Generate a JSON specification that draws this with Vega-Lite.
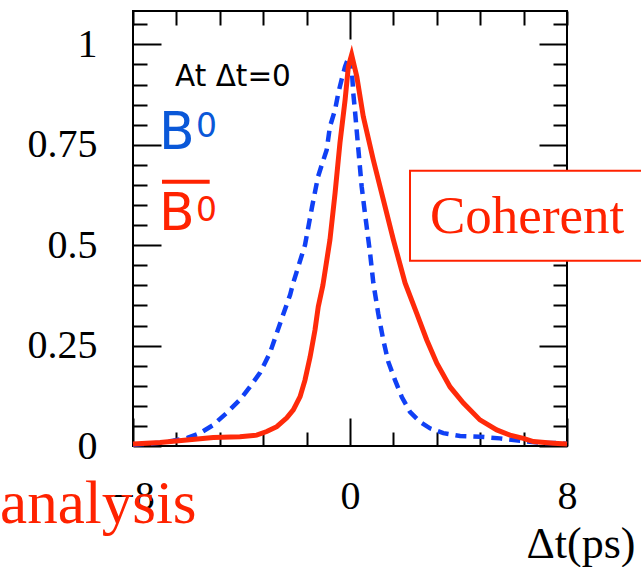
{
  "$schema": "https://vega.github.io/schema/vega-lite/v6.json",
  "width": 434,
  "height": 435,
  "autosize": {"type": "none"},
  "padding": {"left": 133, "top": 11, "right": 74, "bottom": 121},
  "background": "white",
  "config": {
    "view": {"stroke": "black", "strokeWidth": 2},
    "axis": {"domain": false, "grid": false, "tickColor": "black", "tickWidth": 2, "labelFont": "Liberation Serif", "labelFontSize": 40, "labelColor": "black", "labelOverlap": false}
  },
  "datasets": {
    "blue": [
      {"t": -8, "v": 0.003}, {"t": -7.63, "v": 0.005}, {"t": -7.0, "v": 0.008}, {"t": -6.53, "v": 0.013},
      {"t": -6.0, "v": 0.02}, {"t": -5.53, "v": 0.032}, {"t": -5.05, "v": 0.052}, {"t": -4.55, "v": 0.082},
      {"t": -4.06, "v": 0.115}, {"t": -3.69, "v": 0.147}, {"t": -3.32, "v": 0.182}, {"t": -2.95, "v": 0.232},
      {"t": -2.7, "v": 0.281}, {"t": -2.47, "v": 0.326}, {"t": -2.21, "v": 0.376}, {"t": -2.09, "v": 0.407},
      {"t": -1.66, "v": 0.5}, {"t": -1.4, "v": 0.595}, {"t": -1.18, "v": 0.67}, {"t": -1.04, "v": 0.7},
      {"t": -0.86, "v": 0.737}, {"t": -0.74, "v": 0.795}, {"t": -0.55, "v": 0.837}, {"t": -0.43, "v": 0.879},
      {"t": -0.31, "v": 0.912}, {"t": -0.18, "v": 0.945}, {"t": -0.06, "v": 0.966}, {"t": 0, "v": 0.97},
      {"t": 0.06, "v": 0.945}, {"t": 0.12, "v": 0.879}, {"t": 0.18, "v": 0.837}, {"t": 0.31, "v": 0.737},
      {"t": 0.43, "v": 0.646}, {"t": 0.55, "v": 0.58}, {"t": 0.74, "v": 0.48}, {"t": 0.86, "v": 0.406},
      {"t": 1.04, "v": 0.33}, {"t": 1.23, "v": 0.263}, {"t": 1.41, "v": 0.21}, {"t": 1.66, "v": 0.164},
      {"t": 1.91, "v": 0.122}, {"t": 2.21, "v": 0.085}, {"t": 2.58, "v": 0.06}, {"t": 2.95, "v": 0.044},
      {"t": 3.44, "v": 0.032}, {"t": 4.06, "v": 0.025}, {"t": 4.79, "v": 0.023}, {"t": 5.53, "v": 0.019},
      {"t": 6.27, "v": 0.013}, {"t": 7.0, "v": 0.008}, {"t": 7.74, "v": 0.007}, {"t": 8, "v": 0.005}
    ],
    "red": [
      {"t": -8, "v": 0.005}, {"t": -7.0, "v": 0.009}, {"t": -6.02, "v": 0.015}, {"t": -5.04, "v": 0.021},
      {"t": -4.06, "v": 0.023}, {"t": -3.44, "v": 0.027}, {"t": -3.07, "v": 0.036}, {"t": -2.7, "v": 0.048},
      {"t": -2.33, "v": 0.07}, {"t": -2.09, "v": 0.09}, {"t": -1.84, "v": 0.123}, {"t": -1.66, "v": 0.164},
      {"t": -1.47, "v": 0.222}, {"t": -1.29, "v": 0.289}, {"t": -1.17, "v": 0.347}, {"t": -1.0, "v": 0.4},
      {"t": -0.74, "v": 0.513}, {"t": -0.55, "v": 0.63}, {"t": -0.37, "v": 0.755}, {"t": -0.18, "v": 0.862},
      {"t": -0.06, "v": 0.945}, {"t": 0.06, "v": 0.974}, {"t": 0.25, "v": 0.92}, {"t": 0.49, "v": 0.82},
      {"t": 0.86, "v": 0.712}, {"t": 1.23, "v": 0.613}, {"t": 1.6, "v": 0.513}, {"t": 2.03, "v": 0.406},
      {"t": 2.46, "v": 0.33}, {"t": 2.83, "v": 0.264}, {"t": 3.2, "v": 0.206}, {"t": 3.69, "v": 0.147},
      {"t": 4.18, "v": 0.107}, {"t": 4.79, "v": 0.065}, {"t": 5.41, "v": 0.04}, {"t": 5.9, "v": 0.027},
      {"t": 6.39, "v": 0.019}, {"t": 6.76, "v": 0.011}, {"t": 7.5, "v": 0.007}, {"t": 8.0, "v": 0.005}
    ]
  },
  "layer": [
    {
      "layer": [
        {
          "data": {"name": "blue"},
          "mark": {"type": "line", "color": "#1040f5", "strokeWidth": 4.5, "strokeDash": [11, 7]},
          "encoding": {
            "x": {"field": "t", "type": "quantitative", "scale": {"domain": [-8, 8], "nice": false, "zero": false},
              "axis": {"orient": "bottom", "values": [-8, -6.4, -4.8, -3.2, -1.6, 0, 1.6, 3.2, 4.8, 6.4, 8], "tickCount": 100,
                "tickSize": {"condition": {"test": "datum.value == -8 || datum.value == 0 || datum.value == 8", "value": -28}, "value": -14},
                "labelExpr": "(datum.value == -8 || datum.value == 0 || datum.value == 8) ? datum.label : ''",
                "format": "~g", "labelPadding": 90, "labelBaseline": "alphabetic", "labelFlush": false, "labelOverlap": false,
                "title": "Δt(ps)", "titleFont": "Liberation Serif", "titleFontSize": 44, "titleFontWeight": "normal", "titleColor": "black",
                "titleAnchor": null, "titleX": 502, "titleY": 111, "titleAlign": "right", "titleBaseline": "alphabetic"}},
            "y": {"field": "v", "type": "quantitative", "scale": {"domain": [0, 1.083], "nice": false},
              "axis": {"orient": "left", "values": [0, 0.05, 0.1, 0.15, 0.2, 0.25, 0.3, 0.35, 0.4, 0.45, 0.5, 0.55, 0.6, 0.65, 0.7, 0.75, 0.8, 0.85, 0.9, 0.95, 1, 1.05], "tickCount": 100,
                "tickSize": {"condition": {"test": "indexof(['0', '0.25', '0.5', '0.75', '1'], format(datum.value, '~g')) >= 0", "value": -28}, "value": -14},
                "labelExpr": "indexof(['0', '0.25', '0.5', '0.75', '1'], format(datum.value, '~g')) >= 0 ? datum.label : ''",
                "format": "~g", "labelPadding": 64, "labelFlush": false, "labelOverlap": false, "title": null}}
          }
        },
        {
          "data": {"values": [{}]},
          "mark": {"type": "rect", "fill": "white", "stroke": "#ff2200", "strokeWidth": 2},
          "encoding": {"x": {"datum": 2.212, "type": "quantitative"}, "x2": {"datum": 10.9}, "y": {"datum": 0.685, "type": "quantitative"}, "y2": {"datum": 0.461}}
        },
        {
          "data": {"values": [{}]},
          "mark": {"type": "text", "text": "Coherent", "font": "Liberation Serif", "fontSize": 53, "color": "#ff2200", "align": "left", "baseline": "alphabetic"},
          "encoding": {"x": {"datum": 2.95, "type": "quantitative"}, "y": {"datum": 0.531, "type": "quantitative"}}
        },
        {
          "data": {"values": [{}]},
          "mark": {"type": "text", "text": "analysis", "font": "Liberation Serif", "fontSize": 61, "color": "#ff2200", "align": "left", "baseline": "alphabetic"},
          "encoding": {"x": {"datum": -12.9, "type": "quantitative"}, "y": {"datum": -0.192, "type": "quantitative"}}
        },
        {
          "data": {"values": [{}]},
          "mark": {"type": "text", "text": "At Δt=0", "font": "DejaVu Sans", "fontSize": 29.5, "color": "black", "align": "left", "baseline": "alphabetic"},
          "encoding": {"x": {"datum": -6.45, "type": "quantitative"}, "y": {"datum": 0.897, "type": "quantitative"}}
        },
        {
          "data": {"values": [{}]},
          "mark": {"type": "text", "text": "B", "font": "DejaVu Sans", "fontSize": 52, "color": "#0a58d8", "align": "left", "baseline": "alphabetic"},
          "encoding": {"x": {"datum": -7.045, "type": "quantitative"}, "y": {"datum": 0.739, "type": "quantitative"}}
        },
        {
          "data": {"values": [{}]},
          "mark": {"type": "text", "text": "0", "font": "DejaVu Sans", "fontSize": 33, "color": "#0a58d8", "align": "left", "baseline": "alphabetic"},
          "encoding": {"x": {"datum": -5.674, "type": "quantitative"}, "y": {"datum": 0.769, "type": "quantitative"}}
        },
        {
          "data": {"values": [{}]},
          "mark": {"type": "text", "text": "B", "font": "DejaVu Sans", "fontSize": 52, "color": "#ff2200", "align": "left", "baseline": "alphabetic"},
          "encoding": {"x": {"datum": -7.045, "type": "quantitative"}, "y": {"datum": 0.538, "type": "quantitative"}}
        },
        {
          "data": {"values": [{}]},
          "mark": {"type": "text", "text": "0", "font": "DejaVu Sans", "fontSize": 33, "color": "#ff2200", "align": "left", "baseline": "alphabetic"},
          "encoding": {"x": {"datum": -5.674, "type": "quantitative"}, "y": {"datum": 0.559, "type": "quantitative"}}
        },
        {
          "data": {"values": [{}]},
          "mark": {"type": "rule", "color": "#ff2200", "strokeWidth": 4},
          "encoding": {"x": {"datum": -6.931, "type": "quantitative"}, "x2": {"datum": -5.173}, "y": {"datum": 0.658, "type": "quantitative"}}
        }
      ]
    },
    {
      "data": {"name": "red"},
      "mark": {"type": "line", "color": "#ff2a0a", "strokeWidth": 5},
      "encoding": {
        "x": {"field": "t", "type": "quantitative", "scale": {"domain": [-8, 8], "nice": false, "zero": false},
          "axis": {"orient": "top", "values": [-8, -6.4, -4.8, -3.2, -1.6, 0, 1.6, 3.2, 4.8, 6.4, 8], "tickCount": 100,
            "tickSize": {"condition": {"test": "datum.value == 0", "value": -28}, "value": -14},
            "labels": false, "title": null}},
        "y": {"field": "v", "type": "quantitative", "scale": {"domain": [0, 1.083], "nice": false},
          "axis": {"orient": "right", "values": [0, 0.05, 0.1, 0.15, 0.2, 0.25, 0.3, 0.35, 0.4, 0.45, 0.5, 0.55, 0.6, 0.65, 0.7, 0.75, 0.8, 0.85, 0.9, 0.95, 1, 1.05], "tickCount": 100,
            "tickSize": {"condition": {"test": "indexof(['0', '0.25', '0.5', '0.75', '1'], format(datum.value, '~g')) >= 0", "value": -28}, "value": -14},
            "labels": false, "title": null}}
      }
    }
  ],
  "resolve": {"scale": {"x": "independent", "y": "independent"}, "axis": {"x": "independent", "y": "independent"}}
}
